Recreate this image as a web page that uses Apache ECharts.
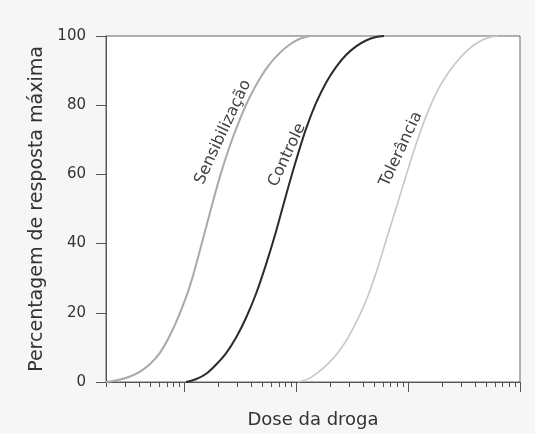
<!DOCTYPE html>
<html>
<head>
<meta charset="utf-8">
<title>Dose da droga</title>
<script src="https://cdn.jsdelivr.net/npm/echarts@6/dist/echarts.min.js"></script>
<style>
  body { margin: 0; background: #f6f6f6; }
  #chart { width: 535px; height: 434px; }
</style>
</head>
<body>
<div id="chart"></div>
<script type="text/javascript">
// doses (log axis) and % of maximal response
var sensDose = [0.2, 0.217, 0.267, 0.328, 0.403, 0.495, 0.608, 0.746, 0.917, 1.13, 1.38,
                1.70, 2.09, 2.57, 3.15, 3.87, 4.76, 5.84, 7.18, 8.82, 10.8, 13.3];
var sensResp = [0, 0.15, 0.7, 1.6, 3.0, 5.2, 8.5, 13.5, 20, 28, 38,
                49, 59.5, 68.5, 76, 82.5, 87.8, 92, 95.2, 97.6, 99.2, 100];

var ctrlDose = [1.04, 1.27, 1.57, 1.92, 2.36, 2.90, 3.56, 4.38, 5.38, 6.61, 8.12,
                9.97, 12.2, 15.0, 18.5, 22.7, 27.9, 34.3, 42.1, 51.7, 61.0];
var ctrlResp = [0, 0.8, 2.4, 5.0, 8.3, 12.8, 18.5, 25.5, 34, 43.5, 54,
                64, 73, 80.5, 86.5, 91, 94.5, 97, 98.7, 99.7, 100];

var tolDose  = [10.4, 12.8, 15.7, 19.3, 23.7, 29.1, 35.7, 43.9, 53.9, 66.2, 81.3,
                99.9, 123, 151, 185, 228, 279, 343, 422, 518, 636];
var tolResp  = [0, 0.9, 2.8, 5.3, 8.5, 12.8, 18.3, 25, 33.3, 42.8, 52,
                61.5, 70.5, 78.3, 84.5, 89.3, 93, 96, 98.2, 99.5, 100];

var majorTicks = [1, 10, 100, 1000];
var minorTicks = [0.2, 0.3, 0.4, 0.5, 0.6, 0.7, 0.8, 0.9,
                  2, 3, 4, 5, 6, 7, 8, 9,
                  20, 30, 40, 50, 60, 70, 80, 90,
                  200, 300, 400, 500, 600, 700, 800, 900];
var yTicks = [0, 20, 40, 60, 80, 100];

// curve labels: text, anchor [dose, %]
var curveLabels = [
  { text: 'Sensibilização', at: [2.22, 72.2] },
  { text: 'Controle',       at: [8.3, 65.6] },
  { text: 'Tolerância',     at: [86.5, 67.3] }
];

function pairs(xs, ys) {
  var out = [];
  for (var i = 0; i < xs.length; i++) out.push([xs[i], ys[i]]);
  return out;
}

var font = 'DejaVu Sans';
var axisColor = '#555';

function logAxis(ticks, len, extra) {
  var a = {
    type: 'log',
    logBase: 10,
    min: 0.2,
    max: 1000,
    position: 'bottom',
    axisLine: { show: true, onZero: false, lineStyle: { color: axisColor, width: 1 } },
    axisTick: { show: true, inside: false, length: len, customValues: ticks,
                lineStyle: { color: axisColor, width: 1 } },
    axisLabel: { show: false },
    splitLine: { show: false },
    minorTick: { show: false },
    minorSplitLine: { show: false }
  };
  for (var k in extra) a[k] = extra[k];
  return a;
}

var chart = echarts.init(document.getElementById('chart'));
var option = {
  backgroundColor: '#f6f6f6',
  animation: false,
  grid: {
    left: 106, right: 15, top: 36, bottom: 49,
    show: true, backgroundColor: '#ffffff',
    borderColor: '#666', borderWidth: 1
  },
  xAxis: [
    logAxis(majorTicks, 10, {
      name: 'Dose da droga', nameLocation: 'middle', nameGap: 29,
      nameTextStyle: { fontFamily: font, fontSize: 18, color: '#333', verticalAlign: 'top' }
    }),
    logAxis(minorTicks, 5, {})
  ],
  yAxis: {
    type: 'value',
    min: 0, max: 100, interval: 20,
    name: 'Percentagem de resposta máxima', nameLocation: 'middle', nameGap: 52,
    nameTextStyle: { fontFamily: font, fontSize: 19, color: '#333' },
    axisLine: { show: true, lineStyle: { color: axisColor, width: 1 } },
    axisTick: { show: true, inside: false, length: 10, lineStyle: { color: axisColor } },
    axisLabel: { margin: 20, fontFamily: font, fontSize: 15, color: '#333',
                 customValues: yTicks },
    splitLine: { show: false }
  },
  series: [
    { name: 'Sensibilização', type: 'line', data: pairs(sensDose, sensResp),
      smooth: 0.3, showSymbol: false, clip: true,
      lineStyle: { color: '#a9a9a9', width: 2 } },
    { name: 'Controle', type: 'line', data: pairs(ctrlDose, ctrlResp),
      smooth: 0.3, showSymbol: false, clip: true,
      lineStyle: { color: '#2b2b2b', width: 2 } },
    { name: 'Tolerância', type: 'line', data: pairs(tolDose, tolResp),
      smooth: 0.3, showSymbol: false, clip: true,
      lineStyle: { color: '#c6c6c6', width: 1.6 } }
  ]
};
chart.setOption(option);

// rotated labels placed along the curves
var texts = curveLabels.map(function (c) {
  var p = chart.convertToPixel({ gridIndex: 0 }, c.at);
  return {
    type: 'text', x: p[0], y: p[1], rotation: 65 * Math.PI / 180,
    style: { text: c.text, fontFamily: font, fontSize: 16, fill: '#444',
             align: 'center', verticalAlign: 'middle' }
  };
});
chart.setOption({ graphic: texts });
</script>
</body>
</html>
